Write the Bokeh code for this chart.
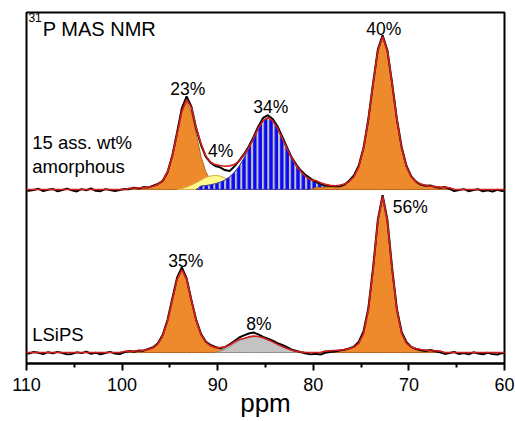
import numpy as np
from bokeh.plotting import figure
from bokeh.models import Range1d, FixedTicker, Label
from bokeh.embed import file_html
from bokeh.resources import INLINE

# ---------------- data (ppm grid: 110.25 -> 59.75, step 0.5) ----------------
grid_start = 110.25
grid_step = 0.5

# deconvolution components, top spectrum (15 ass. wt% amorphous)
top_p23_start = 99.75
top_p23 = [0, 0.7, 0.8, 1.0, 1.2, 1.5, 2.1, 3.2, 5.8, 11.4, 21.3, 35.4, 49.6, 56.0, 49.6,
           35.4, 21.3, 11.4, 5.8, 3.2, 2.1, 1.5, 1.2, 1.0, 0.8, 0.7, 0]
top_p04_start = 94.25
top_p04 = [0, 0.6, 1.5, 2.8, 4.3, 6.0, 7.6, 8.6, 9.0, 8.6, 7.4, 5.8, 4.0, 2.4, 1.2, 0.5, 0]
top_p34_start = 92.25
top_p34 = [0, 2.2, 2.5, 3.0, 3.7, 4.6, 6.0, 8.1, 11.0, 15.0, 20.1, 26.2, 32.8, 39.3, 44.1,
           46.0, 44.1, 39.3, 32.8, 26.2, 20.1, 15.0, 11.0, 8.1, 6.0, 4.6, 3.0, 1.8, 0.8, 0.3, 0]
top_p40_start = 80.25
top_p40 = [0, 1.1, 1.3, 1.5, 1.8, 2.1, 2.7, 3.4, 5.0, 8.1, 14.5, 26.3, 44.6, 67.6, 88.9,
           98.0, 88.9, 67.6, 44.6, 26.3, 14.5, 8.1, 5.0, 3.4, 2.7, 2.1, 1.8, 1.5, 1.3, 1.1, 0]

# deconvolution components, bottom spectrum (LSiPS)
bot_p35_start = 100.25
bot_p35 = [0, 0.7, 0.8, 0.9, 1.1, 1.4, 2.0, 3.0, 5.5, 10.8, 20.2, 33.5, 46.9, 53.0, 46.9,
           33.5, 20.5, 11.5, 6.8, 4.3, 3.0, 2.2, 1.6, 1.2, 0.9, 0.7, 0]
bot_p08_start = 90.25
bot_p08 = [0, 1.0, 2.0, 3.6, 5.8, 7.6, 9.0, 10.0, 10.5, 10.3, 9.4, 8.2, 6.8, 5.2, 3.8,
           2.5, 1.4, 0.7, 0.3, 0]
bot_p56_start = 79.25
bot_p56 = [0, 0.9, 1.1, 1.3, 1.5, 1.9, 2.5, 3.5, 5.9, 12.1, 26.9, 53.1, 84.3, 100.0, 84.3,
           53.1, 26.9, 12.1, 5.9, 3.5, 2.5, 1.9, 1.5, 1.3, 1.1, 0.9, 0]

# experimental spectra on the full grid
top_exp = [0.0, -0.8, -0.3, 0.4, -1.0, -0.2, 0.3, -1.2, -0.4, 0.5, -0.6, -1.3, 0.2, -0.5,
           0.6, -0.9, -1.1, 0.2, -0.4, -1.0, -0.3, 0.3,
           0.2, 1.1, 0.6, 1.5, 1.3, 2.4, 3.6, 5.5, 11.0, 21.8, 36.5, 52.0, 59.6, 53.0, 39.0,
           28.6, 21.0, 17.2, 15.0, 14.2, 12.4, 11.8, 14.8, 18.5, 22.6, 27.5, 33.6, 40.4, 45.8,
           47.6, 45.2, 40.5, 33.8, 26.9, 20.4, 15.6, 11.8, 9.0, 6.8, 5.0, 3.6, 2.5, 2.2, 2.0,
           2.1, 3.0, 5.6, 9.0, 15.2, 26.5, 44.8, 68.0, 89.6, 98.8, 89.2, 67.8, 44.9, 26.9, 15.0,
           8.4, 5.0, 3.0, 2.4, 2.6, 1.5, 1.0, 1.6, 0.4, -1.0, -0.3, 0.2, -1.1, -0.4, 0.1, -1.2,
           -0.6, -1.3, -0.2, -1.0, -0.5]
bot_exp = [0.0, -0.6, 0.3, -0.2, -1.0, 0.2, -0.5, 0.4, -0.3, -1.2, -0.9, 0.1, -0.4, 0.5,
           -0.8, -0.2, -1.1, -0.3, 0.4, -0.7, -1.0,
           0.2, 0.9, 0.5, 1.3, 1.2, 2.3, 3.4, 6.0, 11.4, 20.8, 34.4, 48.0, 54.6, 47.5, 33.6,
           20.9, 12.0, 7.0, 4.8, 3.6, 2.8, 3.4, 5.2, 7.4, 9.6, 11.0, 12.2, 12.8, 11.6, 10.0,
           8.8, 7.6, 6.0, 4.8, 3.4, 1.8, 1.0, 0.2, -0.6, -1.2, -0.8, -1.3, -0.2, 0.3, 0.6, 1.2,
           1.8, 2.6, 3.8, 6.8, 13.5, 28.0, 54.0, 85.0, 100.8, 85.0, 53.8, 27.6, 13.0, 6.6, 3.6,
           2.2, 1.4, 1.0, 1.6, 0.8, 0.2, -0.9, -0.3, 0.3, -1.0, -0.4, -1.2, 0.1, -0.6, -1.1,
           -0.2, -0.9, -1.3, -0.4, -0.8]

top_pct = ["23%", "4%", "34%", "40%"]
bot_pct = ["35%", "8%", "56%"]
x_ticks = [110, 100, 90, 80, 70, 60]
x_minor = [105, 95, 85, 75, 65]

# ---------------- helpers ----------------
n = len(top_exp)
grid = grid_start - grid_step * np.arange(n)


def comp_x(start, vals):
    return start - grid_step * np.arange(len(vals))


def on_grid(start, vals):
    arr = np.zeros(n)
    i0 = int(round((grid_start - start) / grid_step))
    arr[i0:i0 + len(vals)] = vals
    return arr


TOP_OFF = 104.5
FONT = "Liberation Sans"
ORANGE = "#EF8A2C"
ORANGE_EDGE = "#B8651E"

p = figure(width=515, height=421, x_range=Range1d(110, 60), y_range=Range1d(-7.05, 217.9),
           output_backend="svg", toolbar_location=None, y_axis_location=None,
           min_border_left=26, min_border_right=11, min_border_top=12, min_border_bottom=58)
p.xgrid.visible = False
p.ygrid.visible = False
p.outline_line_color = "black"
p.outline_line_width = 2
p.background_fill_color = "white"
p.border_fill_color = "white"


def comp(start, vals, off, fill, edge, **kw):
    xs = comp_x(start, vals)
    ys = np.array(vals, dtype=float) + off
    px = np.concatenate([xs, xs[::-1]])
    py = np.concatenate([ys, np.full(len(xs), off)])
    p.patch(px, py, fill_color=fill, line_color=edge, line_width=1, **kw)


# top components
comp(top_p23_start, top_p23, TOP_OFF, ORANGE, ORANGE_EDGE)
comp(top_p04_start, top_p04, TOP_OFF, "#FFF98E", "#D8B040")
comp(top_p34_start, top_p34, TOP_OFF, "#0A0AF5", "#3A3A9A",
     hatch_pattern="vertical_line", hatch_color="#C4C4C4", hatch_weight=2, hatch_scale=5.4)
comp(top_p40_start, top_p40, TOP_OFF, ORANGE, ORANGE_EDGE)
# bottom components
comp(bot_p35_start, bot_p35, 0, ORANGE, ORANGE_EDGE)
comp(bot_p08_start, bot_p08, 0, "#C3C3C3", "#8E8E8E")
comp(bot_p56_start, bot_p56, 0, ORANGE, ORANGE_EDGE)

# experimental data
p.line(grid, np.array(top_exp) + TOP_OFF, line_color="black", line_width=2)
p.line(grid, np.array(bot_exp), line_color="black", line_width=2)

# fits = sum of components
top_fit = (on_grid(top_p23_start, top_p23) + on_grid(top_p04_start, top_p04)
           + on_grid(top_p34_start, top_p34) + on_grid(top_p40_start, top_p40))
bot_fit = (on_grid(bot_p35_start, bot_p35) + on_grid(bot_p08_start, bot_p08)
           + on_grid(bot_p56_start, bot_p56))
p.line(grid, top_fit + TOP_OFF, line_color="#D21E1E", line_width=1.6)
p.line(grid, bot_fit, line_color="#D21E1E", line_width=1.6)

# axis
ax = p.xaxis[0]
ax.ticker = FixedTicker(ticks=x_ticks, minor_ticks=x_minor)
ax.axis_line_width = 2
ax.major_tick_line_width = 2
ax.minor_tick_line_width = 2
ax.major_tick_in = 0
ax.major_tick_out = 7
ax.minor_tick_in = 0
ax.minor_tick_out = 4
ax.major_label_standoff = 7
ax.major_label_text_font = FONT
ax.major_label_text_font_size = "18px"
ax.major_label_text_color = "black"
ax.axis_label = "ppm"
ax.axis_label_standoff = -6
ax.axis_label_text_font = FONT
ax.axis_label_text_font_size = "26px"
ax.axis_label_text_font_style = "normal"
ax.axis_label_text_color = "black"

LIFT = 4.0  # baseline correction for label placement


def lab(x, y, text, size, align="center"):
    p.add_layout(Label(x=x, y=y + LIFT, text=text, text_font=FONT, text_font_size=size,
                       text_align=align, text_baseline="alphabetic", text_color="black"))


# percent labels
for (x, y), t in zip([(93.14, 164.7), (89.7, 125.0), (84.45, 153.2), (72.62, 203.2)], top_pct):
    lab(x, y, t, "17.5px")
for (x, y, a), t in zip([(93.35, 54.5, "center"), (85.7, 14.1, "center"), (71.68, 89.1, "left")],
                        bot_pct):
    lab(x, y, t, "17.5px", a)

# side texts
lab(109.8, 210.9, "31", "12px", "left")
lab(108.3, 203.2, "P MAS NMR", "20px", "left")
lab(109.4, 130.8, "15 ass. wt%", "18.5px", "left")
lab(109.4, 115.4, "amorphous", "18.5px", "left")
lab(109.4, 7.7, "LSiPS", "18.5px", "left")

open("out.html", "w").write(file_html(p, INLINE))
